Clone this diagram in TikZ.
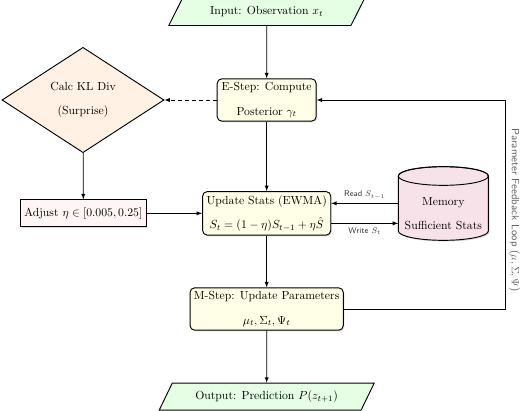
\documentclass[tikz,border=0pt]{standalone}
\usetikzlibrary{shapes.geometric,shadows}
\definecolor{memfill}{RGB}{248,226,234}
\begin{document}
\begin{tikzpicture}[>=latex,
        io/.style={trapezium, trapezium left angle=62, trapezium right angle=118, trapezium stretches=true,
            draw, thick, fill=green!10, minimum height=0.81cm},
        proc/.style={rectangle, rounded corners=4pt, draw, thick, fill=yellow!10, align=center,
            drop shadow={shadow xshift=1pt, shadow yshift=-1pt, opacity=0.3}},
        decide/.style={diamond, draw, thick, fill=orange!10, align=center, inner sep=1pt,
            minimum width=4.86cm, minimum height=2.43cm},
        adjbox/.style={rectangle, draw, thick, fill=red!4, minimum height=0.81cm,
            drop shadow={shadow xshift=1pt, shadow yshift=-1pt, opacity=0.3}},
        store/.style={rectangle, align=center, minimum width=2.7cm, inner sep=0pt},
        arr/.style={->, semithick},
        lbl/.style={font=\scriptsize\sffamily, text=black!80},
        fblabel/.style={font=\small\sffamily, text=black!60, rotate=-90, anchor=south}]

        \useasboundingbox (0,0) rectangle (15.6,-12.3);

        % memory drum
        \draw[thick, fill=memfill, drop shadow={shadow xshift=1pt, shadow yshift=-1pt, opacity=0.3}]
            (11.95,-5.28) -- (11.95,-6.93) arc[start angle=180, end angle=360, x radius=1.35, y radius=0.28]
            -- (14.65,-5.28) arc[start angle=0, end angle=180, x radius=1.35, y radius=0.28] -- cycle;
        \draw[thick] (13.3,-5.28) ellipse [x radius=1.35, y radius=0.28];

        \node[io, minimum width=5.88cm] (input) at (8,-0.36) {Input: Observation $x_t$};
        \node[proc, minimum width=2.97cm] (estep) at (8,-3.0) {E-Step: Compute\\[3mm] Posterior $\gamma_t$};
        \node[decide] (kl) at (2.49,-3.0) {Calc KL Div\\[3mm] (Surprise)};
        \node[adjbox] (adjust) at (2.5,-6.4) {Adjust $\eta \in [0.005, 0.25]$};
        \node[proc] (update) at (8,-6.4) {Update Stats (EWMA)\\[3mm] $S_t = (1-\eta)S_{t-1} + \eta\hat{S}$};
        \node[store] (mem) at (13.3,-6.42) {Memory\\[3mm] Sufficient Stats};
        \node[proc] (mstep) at (8,-9.27) {M-Step: Update Parameters\\[3mm] $\mu_t, \Sigma_t, \Psi_t$};
        \node[io, minimum width=6.45cm] (output) at (8,-11.9) {Output: Prediction $P(z_{t+1})$};

        \coordinate (loop) at (15.15,-6.3);

        \draw[arr] (input) -- (estep);
        \draw[arr, dashed] (estep) -- (kl);
        \draw[arr] (kl) -- (adjust);
        \draw[arr] (adjust) -- (update);
        \draw[arr] (estep) -- (update);
        \draw[arr] (update) -- (mstep);
        \draw[arr] (mstep) -- (output);

        \draw[arr] (mem.west |- 0,-6.1) -- node[lbl, above] {Read $S_{t-1}$} (update.east |- 0,-6.1);
        \draw[arr] (update.east |- 0,-6.7) -- node[lbl, below] {Write $S_t$} (mem.west |- 0,-6.7);

        \draw[arr] (mstep.east) -| (loop) node[fblabel] {Parameter Feedback Loop ($\mu, \Sigma, \Psi$)} |- (estep.east);

    \end{tikzpicture}
\end{document}
